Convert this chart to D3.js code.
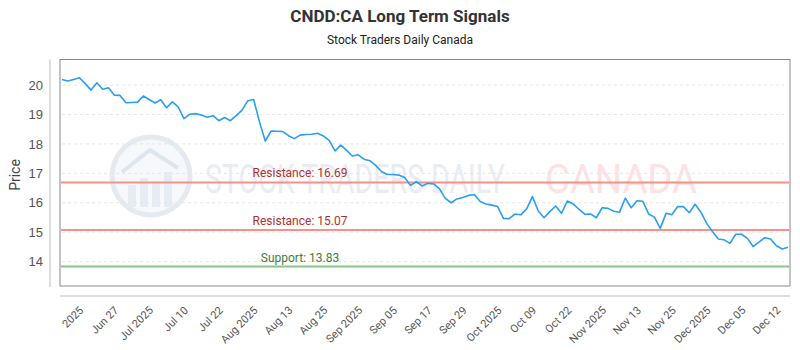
<!DOCTYPE html>
<html>
<head>
<meta charset="utf-8">
<script src="https://cdn.jsdelivr.net/npm/d3@7/dist/d3.min.js"></script>
<style>
  body { margin: 0; background: #fff; }
  svg { font-family: Roboto, 'Noto Sans', sans-serif; }
</style>
</head>
<body>
<div id="chart"></div>
<script>
// chart text
const title = 'CNDD:CA Long Term Signals';
const subtitle = 'Stock Traders Daily Canada';

// daily closes
const prices = [
  20.19, 20.14, 20.19, 20.25, 20.05, 19.83, 20.08, 19.86, 19.91, 19.66,
  19.65, 19.40, 19.41, 19.42, 19.63, 19.51, 19.39, 19.50, 19.23, 19.43,
  19.26, 18.86, 19.01, 19.03, 18.98, 18.91, 18.96, 18.79, 18.90, 18.79,
  18.96, 19.15, 19.47, 19.51, 18.75, 18.10, 18.44, 18.43, 18.42, 18.28,
  18.18, 18.30, 18.32, 18.33, 18.36, 18.27, 18.12, 17.76, 17.96, 17.78,
  17.59, 17.63, 17.48, 17.43, 17.27, 17.06, 16.96, 16.96, 16.94, 16.86,
  16.59, 16.72, 16.57, 16.66, 16.64, 16.47, 16.15, 16.00, 16.13, 16.18,
  16.25, 16.28, 16.04, 15.96, 15.92, 15.87, 15.47, 15.46, 15.62, 15.59,
  15.79, 16.21, 15.72, 15.49, 15.70, 15.89, 15.64, 16.06, 15.96, 15.78,
  15.61, 15.62, 15.49, 15.83, 15.81, 15.71, 15.68, 16.16, 15.83, 16.07,
  16.05, 15.62, 15.51, 15.13, 15.64, 15.59, 15.87, 15.87, 15.66, 15.95,
  15.68, 15.30, 15.02, 14.77, 14.74, 14.62, 14.93, 14.93, 14.79, 14.51,
  14.66, 14.81, 14.77, 14.54, 14.43, 14.49
];

// x tick labels: [point index, label]
const xTicks = [
  [4, '2025'], [10, 'Jun 27'], [16, 'Jul 2025'], [22, 'Jul 10'], [28, 'Jul 22'],
  [34, 'Aug 2025'], [40, 'Aug 13'], [46, 'Aug 25'], [52, 'Sep 2025'], [58, 'Sep 05'],
  [64, 'Sep 17'], [70, 'Sep 29'], [76, 'Oct 2025'], [82, 'Oct 09'], [88, 'Oct 22'],
  [94, 'Nov 2025'], [100, 'Nov 13'], [106, 'Nov 25'], [112, 'Dec 2025'], [118, 'Dec 05'],
  [124, 'Dec 12']
];
const yTicks = [14, 15, 16, 17, 18, 19, 20];

// signal levels
const levels = [
  { label: 'Resistance: 16.69', value: 16.69, kind: 'res' },
  { label: 'Resistance: 15.07', value: 15.07, kind: 'res' },
  { label: 'Support: 13.83', value: 13.83, kind: 'sup' }
];

// !---------------------------------------------------------- graph
const dims = { width: 800, height: 350 };
const box = { left: 60, right: 790, top: 59.5, bottom: 286 };

const svg = d3.select('#chart')
  .append('svg')
  .attr('width', dims.width)
  .attr('height', dims.height);

const x = d3.scaleLinear()
  .domain([0, prices.length - 1])
  .range([62, 788]);

const y = d3.scaleLinear()
  .domain([13.17, 20.87])
  .range([box.bottom, box.top]);

// titles
svg.append('text')
  .attr('x', 400).attr('y', 22)
  .attr('text-anchor', 'middle')
  .attr('font-size', '17px')
  .attr('font-weight', 'bold')
  .attr('fill', '#333')
  .text(title);

svg.append('text')
  .attr('x', 400).attr('y', 44)
  .attr('text-anchor', 'middle')
  .attr('font-size', '12px')
  .attr('fill', '#222')
  .text(subtitle);

// watermark
const wm = svg.append('g').attr('opacity', 0.75);
wm.append('circle')
  .attr('cx', 151).attr('cy', 176).attr('r', 39)
  .attr('fill', '#f4f6fa')
  .attr('stroke', '#dde3ec')
  .attr('stroke-width', 5);
[[128, 185, 8, 22], [140, 178, 8, 29], [152, 182, 8, 25], [164, 172, 8, 35]].forEach((b) => {
  wm.append('rect')
    .attr('x', b[0]).attr('y', b[1]).attr('width', b[2]).attr('height', b[3])
    .attr('fill', '#dfe6f1');
});
wm.append('path')
  .attr('d', 'M122,172 L150,150 L178,168')
  .attr('fill', 'none')
  .attr('stroke', '#d5dde9')
  .attr('stroke-width', 4);
wm.append('text')
  .attr('x', 205).attr('y', 193)
  .attr('font-size', '40px')
  .attr('textLength', 300)
  .attr('lengthAdjust', 'spacingAndGlyphs')
  .attr('fill', '#e2e7f0')
  .text('STOCK TRADERS DAILY');
wm.append('text')
  .attr('x', 545).attr('y', 193)
  .attr('font-size', '40px')
  .attr('textLength', 152)
  .attr('lengthAdjust', 'spacingAndGlyphs')
  .attr('fill', '#fcd9d9')
  .text('CANADA');

// grid
svg.append('g')
  .selectAll('line')
  .data(yTicks)
  .enter()
  .append('line')
  .attr('x1', box.left + 2).attr('x2', box.right - 6)
  .attr('y1', (d) => y(d)).attr('y2', (d) => y(d))
  .attr('stroke', '#e6e6e6')
  .attr('stroke-dasharray', '3,3');

// plot frame
svg.append('rect')
  .attr('x', box.left).attr('y', box.top)
  .attr('width', box.right - box.left)
  .attr('height', box.bottom - box.top)
  .attr('fill', 'none')
  .attr('stroke', '#888')
  .attr('stroke-width', 1);

// y axis
const yAxis = d3.axisLeft(y).tickValues(yTicks).tickSize(0).tickPadding(7);
const yG = svg.append('g')
  .attr('transform', 'translate(50,0)')
  .call(yAxis);
yG.select('.domain').attr('stroke', '#bbb').attr('d', `M0,${box.top}V${box.bottom + 1}`);
yG.selectAll('text').attr('font-size', '13px').attr('fill', '#555');

svg.append('text')
  .attr('transform', 'translate(20,175) rotate(-90)')
  .attr('text-anchor', 'middle')
  .attr('font-size', '14px')
  .attr('fill', '#444')
  .text('Price');

// x axis
svg.append('line')
  .attr('x1', box.left).attr('x2', box.right)
  .attr('y1', 296).attr('y2', 296)
  .attr('stroke', '#bbb');

svg.append('g')
  .selectAll('text')
  .data(xTicks)
  .enter()
  .append('text')
  .attr('transform', (d) => `translate(${x(d[0]) - 1},311) rotate(-45)`)
  .attr('text-anchor', 'end')
  .attr('font-size', '11px')
  .attr('fill', '#555')
  .text((d) => d[1]);

// signal lines
const levelG = svg.append('g');
levelG.selectAll('line')
  .data(levels)
  .enter()
  .append('line')
  .attr('x1', box.left + 1).attr('x2', box.right - 1)
  .attr('y1', (d) => y(d.value)).attr('y2', (d) => y(d.value))
  .attr('stroke', (d) => (d.kind === 'res' ? '#f4928a' : '#8cc48c'))
  .attr('stroke-width', 2);
levelG.selectAll('text')
  .data(levels)
  .enter()
  .append('text')
  .attr('x', 300)
  .attr('y', (d) => y(d.value) - 5)
  .attr('text-anchor', 'middle')
  .attr('font-size', '12px')
  .attr('fill', (d) => (d.kind === 'res' ? '#b03030' : '#3d7d3d'))
  .text((d) => d.label);

// price line
const line = d3.line()
  .x((d, i) => x(i))
  .y((d) => y(d));

svg.append('path')
  .datum(prices)
  .attr('d', line)
  .attr('fill', 'none')
  .attr('stroke', '#2b9ef2')
  .attr('stroke-width', 1.6)
  .attr('stroke-linejoin', 'round');
</script>
</body>
</html>
